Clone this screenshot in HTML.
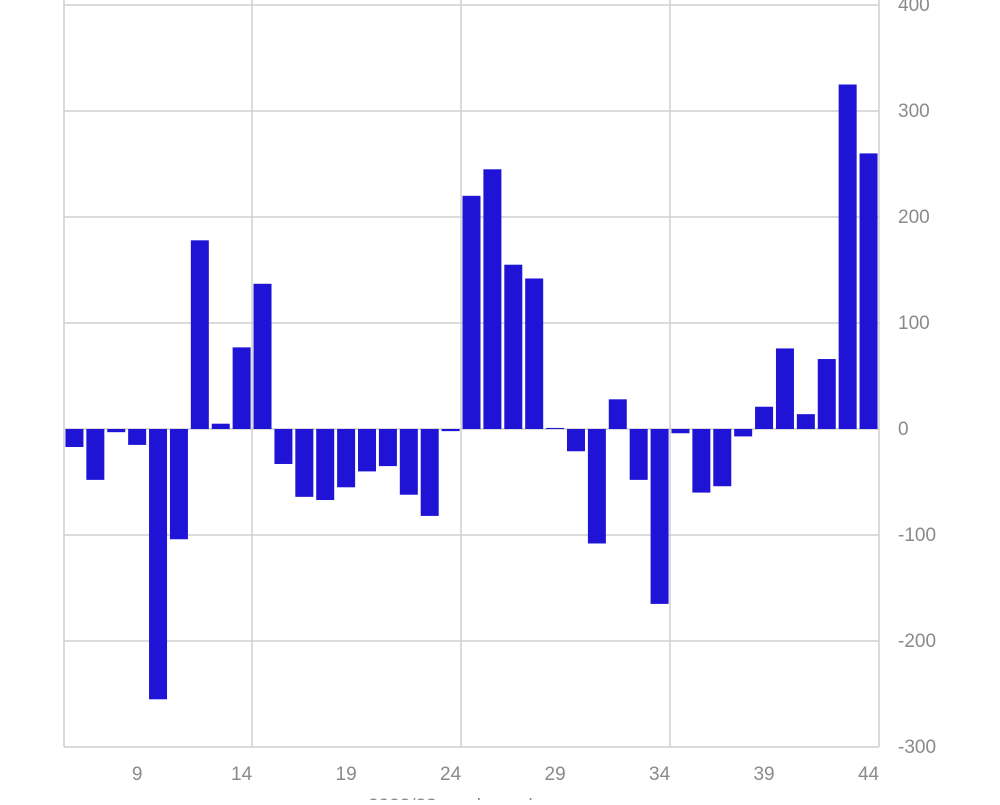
<!DOCTYPE html>
<html><head><meta charset="utf-8"><style>
body{margin:0;background:#fff;width:1000px;height:800px;overflow:hidden}
svg text{font-family:"Liberation Sans",sans-serif;fill:#8a8a8a;font-size:19px}
</style></head><body>
<svg id="chart" width="1000" height="800" xmlns="http://www.w3.org/2000/svg"></svg>
<script>
const weeks=[6,7,8,9,10,11,12,13,14,15,16,17,18,19,20,21,22,23,24,25,26,27,28,29,30,31,32,33,34,35,36,37,38,39,40,41,42,43,44];
const values=[-17,-48,-3,-15,-255,-104,178,5,77,137,-33,-64,-67,-55,-40,-35,-62,-82,-2,220,245,155,142,1,-21,-108,28,-48,-165,-4,-60,-54,-7,21,76,14,66,325,260];
const yTicks=[-300,-200,-100,0,100,200,300,400];
const xTicks=[9,14,19,24,29,34,39,44];
const xGrid=[5.5,14.5,24.5,34.5,44.5];
const NS='http://www.w3.org/2000/svg';
const svg=document.getElementById('chart');
const x=w=>64+(w-5.5)*(815/39);
const y=v=>429-v*1.06;
function mk(t,a){const e=document.createElementNS(NS,t);for(const k in a)e.setAttribute(k,a[k]);svg.appendChild(e);return e;}
yTicks.forEach(v=>{
 const l=mk('line',{x1:64,x2:879,y1:y(v),y2:y(v),stroke:'#cfcfcf','stroke-width':1.5});
 
 
 const t=mk('text',{x:898,y:y(v)+6});t.textContent=v;
 
 
});
xGrid.forEach(w=>{
 const l=mk('line',{x1:x(w),x2:x(w),y1:0,y2:y(-300),stroke:'#cfcfcf','stroke-width':1.5});
 
 
});
xTicks.forEach(w=>{
 const t=mk('text',{x:x(w),y:780,'text-anchor':'middle'});t.textContent=w;
 
 
});
weeks.forEach((w,i)=>{
 const v=values[i];
 const r=mk('rect',{x:x(w)-9,width:18,y:Math.min(y(v),y(0)),height:Math.abs(y(v)-y(0)),fill:'#1f14d6'});
 
 
});
const t=mk('text',{x:462,y:812,'text-anchor':'middle','font-size':'24'});t.textContent='2022/23 week number';


</script>
</body></html>
